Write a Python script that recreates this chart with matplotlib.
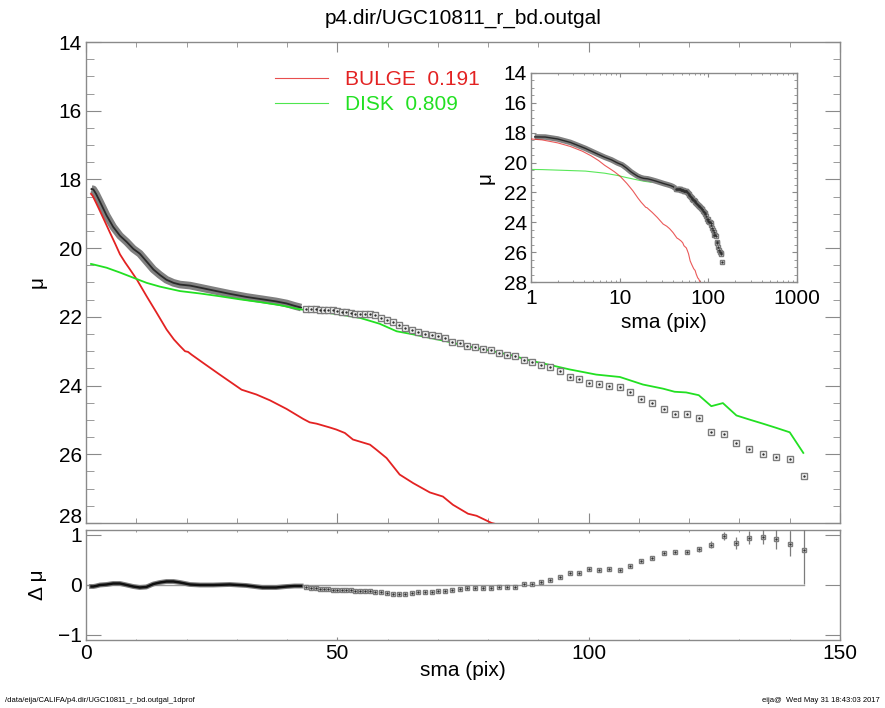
import numpy as np
import matplotlib.pyplot as plt
from matplotlib.ticker import MultipleLocator, LogLocator, NullFormatter

plt.rcParams['font.family'] = ['Liberation Sans', 'DejaVu Sans']

################################## DATA ##################################

# dense inner profile (points overlap into a band)
sma_band = [1.1, 1.45, 2.0, 2.78, 4.1, 5.4, 6.76, 8.1, 9.4, 10.7, 12.0, 13.4, 14.7,
            16.0, 17.4, 18.7, 20.7, 22.7, 25.3, 28.6, 31.9, 35.1, 37.8, 39.9, 41.5, 42.8]
mu_band = [18.28, 18.29, 18.42, 18.65, 19.05, 19.38, 19.64, 19.82, 20.02, 20.16, 20.38,
           20.62, 20.78, 20.92, 21.01, 21.06, 21.09, 21.15, 21.23, 21.33, 21.42, 21.49,
           21.55, 21.61, 21.68, 21.73]
dmu_band = [-0.03, -0.03, -0.02, 0.0, 0.01, 0.03, 0.03, 0.0, -0.03, -0.05, -0.04, 0.02,
            0.05, 0.07, 0.07, 0.05, 0.01, 0.0, 0.0, 0.01, -0.01, -0.05, -0.05, -0.03,
            -0.02, -0.02]

# outer isophotes, drawn as separate squares
sma_pts = [43.7, 44.7, 45.7, 46.5, 47.4, 48.2, 49.1, 50.0, 50.9, 51.8, 52.7, 53.6, 54.5,
           55.5, 56.5, 57.5, 58.78, 59.91, 61.10, 62.29, 63.55, 64.81, 66.14, 67.46,
           68.79, 70.11, 71.50, 72.90, 74.35, 75.88, 77.47, 78.99, 80.52, 82.11, 83.76,
           85.42, 87.14, 88.80, 90.59, 92.38, 94.30, 96.22, 98.08, 100.07, 102.05,
           104.11, 106.16, 108.28, 110.47, 112.66, 114.91, 117.16, 119.48, 121.87,
           124.32, 126.84, 129.36, 131.94, 134.59, 137.24, 139.96, 142.74]
mu_pts = [21.76, 21.78, 21.78, 21.79, 21.80, 21.80, 21.81, 21.83, 21.85, 21.87, 21.89,
          21.91, 21.92, 21.92, 21.92, 21.94, 22.04, 22.09, 22.15, 22.23, 22.33, 22.38,
          22.44, 22.49, 22.54, 22.56, 22.62, 22.72, 22.76, 22.85, 22.88, 22.93, 22.97,
          23.05, 23.10, 23.14, 23.26, 23.30, 23.40, 23.47, 23.57, 23.75, 23.81, 23.93,
          23.95, 24.01, 24.04, 24.19, 24.38, 24.52, 24.67, 24.82, 24.82, 24.95, 25.35,
          25.42, 25.67, 25.86, 26.00, 26.09, 26.15, 26.63]
dmu_pts = [-0.03, -0.05, -0.06, -0.07, -0.08, -0.08, -0.09, -0.10, -0.10, -0.10, -0.10,
           -0.11, -0.12, -0.12, -0.12, -0.13, -0.14, -0.16, -0.18, -0.18, -0.18, -0.16,
           -0.14, -0.13, -0.13, -0.12, -0.12, -0.09, -0.07, -0.05, -0.05, -0.05, -0.05,
           -0.04, -0.03, -0.03, 0.02, 0.03, 0.07, 0.10, 0.16, 0.24, 0.24, 0.32, 0.30,
           0.32, 0.31, 0.39, 0.49, 0.54, 0.64, 0.67, 0.67, 0.72, 0.81, 0.99, 0.84, 0.95,
           0.97, 0.92, 0.83, 0.70]
err_pts = [0.01] * 16 + [0.01] * 20 + [0.015] * 10 + \
          [0.02, 0.02, 0.02, 0.02, 0.03, 0.03, 0.04, 0.05, 0.07, 0.08, 0.12, 0.13,
           0.15, 0.20, 0.25, 0.67]

# model components
sma_bulge = [1.0, 1.33, 2.0, 2.78, 3.8, 4.77, 5.8, 6.76, 7.8, 8.75, 10.1, 12.06, 14.05,
             16.04, 17.5, 18.7, 19.7, 20.3, 21.0, 23.3, 26.6, 30.95, 33.9, 36.6, 39.9,
             43.2, 44.5, 45.9, 48.5, 49.8, 51.5, 53.1, 56.5, 57.8, 59.8, 62.4, 65.1,
             68.4, 71.0, 73.0, 76.0, 77.7, 80.7, 84.0]
mu_bulge = [18.42, 18.48, 18.68, 18.92, 19.24, 19.55, 19.87, 20.18, 20.42, 20.62, 20.91,
            21.40, 21.88, 22.37, 22.66, 22.85, 23.00, 23.02, 23.10, 23.34, 23.68, 24.12,
            24.26, 24.43, 24.68, 24.97, 25.07, 25.11, 25.22, 25.28, 25.38, 25.57, 25.72,
            25.87, 26.11, 26.59, 26.84, 27.11, 27.23, 27.47, 27.73, 27.79, 28.00, 28.12]

sma_disk = [1.0, 1.33, 4.1, 6.76, 9.4, 12.06, 14.7, 18.7, 22.7, 26.6, 30.6, 34.6, 38.6,
            42.5, 46.5, 50.5, 54.5, 58.4, 61.8, 65.1, 68.4, 71.7, 75.7, 80.3, 85.0, 88.3,
            92.9, 96.2, 101.5, 106.2, 110.8, 114.8, 117.1, 119.4, 121.9, 124.4, 126.7,
            129.4, 132.0, 134.7, 137.3, 140.0, 142.7]
mu_disk = [20.46, 20.47, 20.57, 20.71, 20.86, 21.01, 21.12, 21.25, 21.32, 21.40, 21.49,
           21.57, 21.66, 21.78, 21.85, 21.93, 22.03, 22.20, 22.42, 22.51, 22.61, 22.71,
           22.85, 22.98, 23.13, 23.27, 23.42, 23.53, 23.68, 23.75, 23.97, 24.09, 24.18,
           24.20, 24.28, 24.60, 24.51, 24.87, 24.99, 25.11, 25.23, 25.36, 25.96]

bulge_label = 'BULGE  0.191'
disk_label = 'DISK  0.809'

################################## STYLE ##################################

RED = '#e32222'
GREEN = '#22e022'
AXC = '#8a8a8a'
PX = 72.0 / 100.0   # points per pixel

def style_axes(ax):
    for s in ax.spines.values():
        s.set_color(AXC)
        s.set_linewidth(1.0)
    ax.tick_params(which='both', direction='in', top=True, right=True, colors=AXC,
                   labelcolor='black', labelsize=15)

def draw_profile(ax, band_lw, core_lw, ms):
    ax.plot(sma_band, mu_band, color='#808080', lw=band_lw, solid_capstyle='butt', zorder=2)
    ax.plot(sma_band, mu_band, color='#2a2a2a', lw=core_lw, zorder=3)
    ax.plot(sma_pts, mu_pts, 's', ms=ms, mfc='white', mec='#7c7c7c', mew=1.0, zorder=4)
    ax.plot(sma_pts, mu_pts, '.', ms=1.5, color='#303030', zorder=5)

################################## PLOT ##################################

fig = plt.figure(figsize=(8.85, 7.08), dpi=100)

ax = fig.add_axes([86 / 885, 1 - 523 / 708, 754 / 885, 481 / 708])
axr = fig.add_axes([86 / 885, 1 - 640 / 708, 754 / 885, 110 / 708])
axi = fig.add_axes([531 / 885, 1 - 282 / 708, 266 / 885, 209 / 708])

# main profile
draw_profile(ax, 5.5, 1.3, 4.0)
lb, = ax.plot(sma_bulge, mu_bulge, color=RED, lw=1.3, label=bulge_label, zorder=3)
ld, = ax.plot(sma_disk, mu_disk, color=GREEN, lw=1.3, label=disk_label, zorder=3)
ax.set_xlim(0, 150)
ax.set_ylim(28, 14)
style_axes(ax)
ax.xaxis.set_major_locator(MultipleLocator(50))
ax.xaxis.set_minor_locator(MultipleLocator(10))
ax.set_yticks([14, 16, 18, 20, 22, 24, 26, 28])
ax.yaxis.set_minor_locator(MultipleLocator(0.5))
ax.tick_params(axis='x', which='major', length=10 * PX, labelbottom=False)
ax.tick_params(axis='x', which='minor', length=5 * PX)
ax.tick_params(axis='y', which='major', length=15 * PX, pad=3)
ax.tick_params(axis='y', which='minor', length=7.5 * PX)
ylab = ax.get_yticklabels()
ylab[-1].set_va('baseline')
ax.set_ylabel('μ', fontsize=15)
ax.yaxis.set_label_coords(-0.052, 0.5)
ax.set_title('p4.dir/UGC10811_r_bd.outgal', fontsize=15, pad=13)

leg = ax.legend(handles=[lb, ld], loc='upper left', bbox_to_anchor=(0.2507, 0.942),
                frameon=False, fontsize=15, handlelength=2.55, handletextpad=0.8,
                labelspacing=0.3, borderpad=0, borderaxespad=0)
for line in leg.get_lines():
    line.set_linewidth(0.8)
    line.set_alpha(0.8)
leg.get_texts()[0].set_color(RED)
leg.get_texts()[1].set_color(GREEN)

# residuals
axr.plot([0, sma_pts[-1]], [0, 0], color='#9a9a9a', lw=1.0, zorder=1)
axr.plot(sma_band, dmu_band, color='#7c7c7c', lw=3.5, zorder=2)
axr.plot(sma_band, dmu_band, color='#101010', lw=1.8, zorder=3)
axr.errorbar(sma_pts, dmu_pts, yerr=err_pts, fmt='s', ms=3.5, mfc='white', mec='#7c7c7c',
             mew=1.0, ecolor='#7c7c7c', elinewidth=0.9, capsize=0, zorder=4)
axr.plot(sma_pts, dmu_pts, '.', ms=1.5, color='#303030', zorder=5)
axr.set_xlim(0, 150)
axr.set_ylim(-1.1, 1.1)
style_axes(axr)
axr.xaxis.set_major_locator(MultipleLocator(50))
axr.xaxis.set_minor_locator(MultipleLocator(10))
axr.set_yticks([-1, 0, 1])
axr.tick_params(axis='x', which='major', length=3 * PX, pad=3)
axr.tick_params(axis='x', which='minor', length=1.5 * PX)
axr.tick_params(axis='y', which='major', length=15 * PX, pad=3)
axr.set_ylabel('Δ μ', fontsize=15)
axr.yaxis.set_label_coords(-0.052, 0.5)
axr.set_xlabel('sma (pix)', fontsize=15)
axr.xaxis.set_label_coords(0.5, -0.19)

# inset in log radius
draw_profile(axi, 4.0, 1.0, 3.5)
axi.plot(sma_bulge, mu_bulge, color=RED, lw=0.8, alpha=0.75, zorder=3)
inner = [i for i, s in enumerate(sma_disk) if s <= 24]
axi.plot([sma_disk[i] for i in inner], [mu_disk[i] for i in inner], color=GREEN, lw=0.8,
         alpha=0.75, zorder=1)
axi.set_xscale('log')
axi.set_xlim(1, 1000)
axi.set_ylim(28, 14)
style_axes(axi)
axi.xaxis.set_major_locator(LogLocator(base=10))
axi.xaxis.set_minor_locator(LogLocator(base=10, subs=np.arange(2, 10)))
axi.xaxis.set_minor_formatter(NullFormatter())
axi.set_xticks([1, 10, 100, 1000], ['1', '10', '100', '1000'])
axi.yaxis.set_major_locator(MultipleLocator(2))
axi.yaxis.set_minor_locator(MultipleLocator(0.5))
axi.tick_params(axis='x', which='major', length=4 * PX, pad=5)
axi.tick_params(axis='x', which='minor', length=2 * PX)
axi.tick_params(axis='y', which='major', length=5.3 * PX, pad=3)
axi.tick_params(axis='y', which='minor', length=2.6 * PX)
axi.set_ylabel('μ', fontsize=15)
axi.yaxis.set_label_coords(-0.135, 0.5)
axi.set_xlabel('sma (pix)', fontsize=15)
axi.xaxis.set_label_coords(0.5, -0.15)

fig.text(5 / 885, 4 / 708, '/data/eija/CALIFA/p4.dir/UGC10811_r_bd.outgal_1dprof',
         fontsize=5.5, ha='left', va='bottom')
fig.text(880 / 885, 4 / 708, 'eija@  Wed May 31 18:43:03 2017',
         fontsize=5.5, ha='right', va='bottom')

fig.savefig('out.png', dpi=100)
